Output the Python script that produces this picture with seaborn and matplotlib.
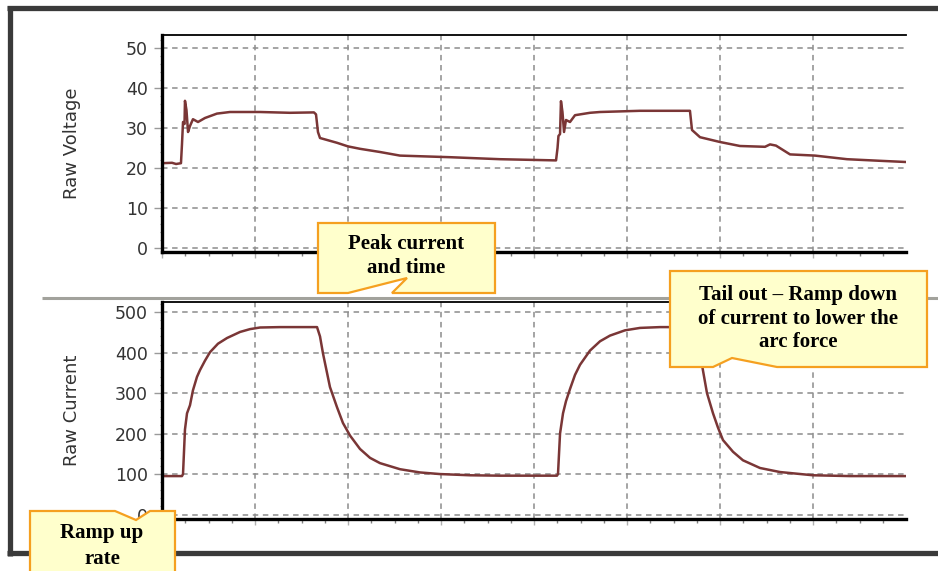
import numpy as np
import pandas as pd
import matplotlib
matplotlib.use("Agg")
import matplotlib.pyplot as plt
import seaborn as sns
from matplotlib.patches import Polygon
from matplotlib.lines import Line2D

# ---------------- data (time in grid divisions) ----------------
voltage_time = [0.000, 0.108, 0.151, 0.204, 0.215, 0.226, 0.242, 0.247, 0.263, 0.280,
                0.301, 0.333, 0.387, 0.462, 0.591, 0.731, 1.054, 1.376, 1.634, 1.656,
                1.677, 1.699, 1.882, 2.000, 2.129, 2.344, 2.559, 3.097, 3.634, 4.237,
                4.253, 4.263, 4.280, 4.290, 4.306, 4.323, 4.344, 4.387, 4.441, 4.602,
                4.710, 5.140, 5.677, 5.699, 5.785, 6.000, 6.215, 6.484, 6.538, 6.602,
                6.753, 7.022, 7.366, 7.720, 8.000]
voltage_values = [21.2, 21.3, 21.0, 21.2, 26.0, 31.5, 31.0, 36.8, 34.5, 29.0,
                  30.5, 32.2, 31.5, 32.5, 33.6, 34.0, 34.0, 33.8, 33.9, 33.4,
                  29.0, 27.5, 26.3, 25.4, 24.8, 24.0, 23.1, 22.7, 22.2, 21.9,
                  25.0, 28.0, 28.5, 36.7, 34.0, 29.0, 32.0, 31.5, 33.2, 33.8,
                  34.0, 34.3, 34.3, 29.5, 27.7, 26.5, 25.5, 25.3, 25.9, 25.6,
                  23.4, 23.1, 22.2, 21.8, 21.5]

current_time = [0.000, 0.215, 0.226, 0.247, 0.269, 0.301, 0.333, 0.376, 0.409, 0.462,
                0.516, 0.602, 0.699, 0.839, 0.946, 1.054, 1.269, 1.667, 1.699, 1.731,
                1.806, 1.882, 1.946, 2.022, 2.129, 2.237, 2.344, 2.559, 2.774, 2.989,
                3.312, 3.634, 4.247, 4.258, 4.280, 4.312, 4.344, 4.387, 4.441, 4.495,
                4.602, 4.710, 4.817, 4.978, 5.140, 5.355, 5.731, 5.763, 5.806, 5.860,
                5.925, 5.978, 6.032, 6.140, 6.247, 6.430, 6.645, 7.000, 7.398, 8.000]
current_values = [95, 95, 100, 210, 250, 270, 307, 340, 357, 380,
                  401, 422, 436, 451, 458, 462, 463, 463, 440, 398,
                  315, 265, 226, 195, 162, 140, 127, 112, 104, 100,
                  97, 96, 96, 100, 200, 250, 280, 310, 345, 370,
                  405, 428, 442, 455, 461, 463, 463, 430, 370, 300,
                  250, 215, 184, 155, 134, 115, 105, 97, 95, 95]

voltage_ticks = [0, 10, 20, 30, 40, 50]
current_ticks = [0, 100, 200, 300, 400, 500]

callout_peak = "Peak current\nand time"
callout_tail = "Tail out \u2013 Ramp down\nof current to lower the\narc force"
callout_ramp = "Ramp up\nrate"

# ---------------- figure ----------------
sns.set_theme(style="white")
plt.rcParams["font.family"] = ["DejaVu Sans"]

W, H = 938, 571
fig = plt.figure(figsize=(W / 100, H / 100), dpi=100)
fig.patch.set_facecolor("white")


def fx(px):
    return px / W


def fy(py):
    return 1 - py / H


ax1 = fig.add_axes([fx(162), fy(252), (906 - 162) / W, (252 - 35) / H])
ax2 = fig.add_axes([fx(162), fy(519), (906 - 162) / W, (519 - 302) / H])

line_color = "#7a3636"
df_v = pd.DataFrame({"t": voltage_time, "v": voltage_values})
df_c = pd.DataFrame({"t": current_time, "c": current_values})
sns.lineplot(data=df_v, x="t", y="v", ax=ax1, color=line_color, lw=1.8,
             estimator=None, sort=False)
sns.lineplot(data=df_c, x="t", y="c", ax=ax2, color=line_color, lw=1.8,
             estimator=None, sort=False)


def style(ax, ylim, yticks, yminor, label):
    ax.set_facecolor("white")
    ax.set_xlim(0, 8)
    ax.set_ylim(*ylim)
    ax.set_xticks(range(0, 8))
    ax.set_xticks(np.arange(0, 7.9, 0.25), minor=True)
    ax.set_xticklabels([])
    ax.set_xlabel("")
    ax.set_yticks(yticks)
    ax.set_yticks(yminor, minor=True)
    ax.set_axisbelow(True)
    ax.grid(True, which="major", color="#8c8c8c", linestyle=(0, (3.6, 3.0)), lw=1.1)
    ax.grid(False, which="minor")
    for s in ["left", "bottom", "top"]:
        ax.spines[s].set_visible(True)
        ax.spines[s].set_color("black")
    ax.spines["right"].set_visible(False)
    ax.spines["left"].set_linewidth(2.4)
    ax.spines["bottom"].set_linewidth(2.4)
    ax.spines["top"].set_linewidth(1.3)
    ax.tick_params(axis="y", which="major", direction="out", length=6, width=1,
                   color="#9a9a9a", labelsize=12.5, labelcolor="#333333", pad=4,
                   left=True)
    ax.tick_params(axis="y", which="minor", direction="out", length=1.5, width=0.8,
                   color="#999999", left=True)
    ax.tick_params(axis="x", which="major", direction="out", length=4, width=1,
                   color="#b0b0b0", bottom=True)
    ax.tick_params(axis="x", which="minor", direction="out", length=3, width=1,
                   color="#808080", bottom=True)
    ax.set_ylabel(label, fontsize=13, color="#333333")
    ax.yaxis.set_label_coords((81 - 162) / 744, 0.5)


style(ax1, (-1, 53.25), voltage_ticks, np.arange(0, 53, 2), "Raw Voltage")
style(ax2, (-11, 525), current_ticks, np.arange(0, 521, 20), "Raw Current")

# ---------------- frame & separator ----------------
frame_c = "#3a3a3a"
fig.add_artist(Line2D([fx(7), fx(940)], [fy(7.5), fy(7.5)], transform=fig.transFigure,
                      color=frame_c, lw=3.8, solid_capstyle="butt"))
fig.add_artist(Line2D([fx(9.5), fx(9.5)], [fy(5.5), fy(555.5)], transform=fig.transFigure,
                      color=frame_c, lw=3.8, solid_capstyle="butt"))
fig.add_artist(Line2D([fx(7), fx(940)], [fy(553), fy(553)], transform=fig.transFigure,
                      color=frame_c, lw=3.8, solid_capstyle="butt"))
fig.add_artist(Line2D([fx(42), fx(940)], [fy(298), fy(298)], transform=fig.transFigure,
                      color="#a2a29c", lw=2.2, solid_capstyle="butt"))

# ---------------- callouts ----------------
fill_c = "#ffffcc"
edge_c = "#f5a020"


def callout(pts):
    poly = Polygon([(fx(x), fy(y)) for x, y in pts], closed=True,
                   transform=fig.transFigure, facecolor=fill_c, edgecolor=edge_c,
                   lw=1.6, zorder=5)
    fig.add_artist(poly)


callout([(318, 293), (348, 293), (407, 278), (392, 293), (495, 293),
         (495, 223), (318, 223)])
callout([(670, 367), (713, 367), (732, 358), (777, 367), (927, 367),
         (927, 271), (670, 271)])
callout([(30, 585), (30, 511), (115, 511), (136, 520), (150, 511),
         (175, 511), (175, 585)])

tkw = dict(transform=fig.transFigure, ha="center", va="center", multialignment="center",
           fontsize=15, fontweight="bold", family=["Liberation Serif", "DejaVu Serif"],
           color="black", zorder=6, linespacing=1.22)
fig.text(fx(406.5), fy(256), callout_peak, **tkw)
fig.text(fx(798), fy(318.5), callout_tail, **tkw)
fig.text(fx(102), fy(546), callout_ramp, **dict(tkw, linespacing=1.35))

fig.savefig("out.png", dpi=100, facecolor="white")
